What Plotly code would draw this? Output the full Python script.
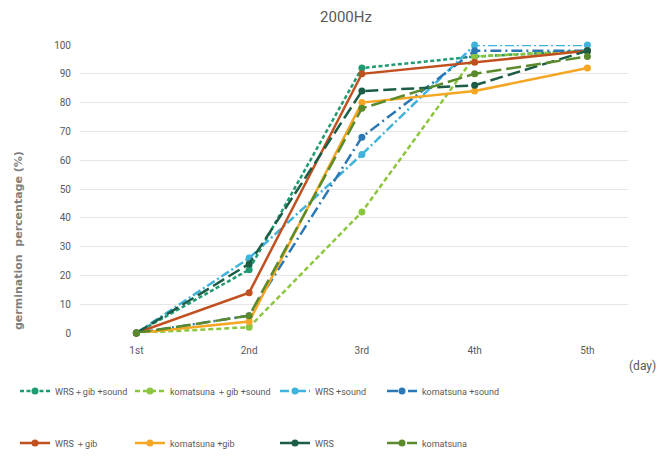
import plotly.graph_objects as go

days = ["1st", "2nd", "3rd", "4th", "5th"]
wrs_gib_sound = [0, 22, 92, 96, 98]
kom_gib_sound = [0, 2, 42, 96, 98]
wrs_sound = [0, 26, 62, 100, 100]
kom_sound = [0, 6, 68, 98, 98]
wrs_gib = [0, 14, 90, 94, 98]
kom_gib = [0, 4, 80, 84, 92]
wrs = [0, 24, 84, 86, 98]
kom = [0, 6, 78, 90, 96]
y_ticks = list(range(0, 101, 10))

series = [
    ("WRS＋gib +sound", wrs_gib_sound, "#1f9a72", "4px,2.5px"),
    ("komatsuna ＋gib +sound", kom_gib_sound, "#8cc63e", "5px,3px"),
    ("WRS +sound", wrs_sound, "#3fb3dc", "9px,3px,2px,3px"),
    ("komatsuna +sound", kom_sound, "#2b78b5", "11px,4px,2px,4px"),
    ("WRS ＋gib", wrs_gib, "#c0501f", "solid"),
    ("komatsuna +gib", kom_gib, "#f5a623", "solid"),
    ("WRS", wrs, "#1b5e45", "13px,5px"),
    ("komatsuna", kom, "#5a8a2c", "15px,5px"),
]

font_fam = "Roboto, Liberation Sans, sans-serif"
OFF = 8  # page body margin
W, H = 667, 456
L, T = 80 - OFF, 45 - OFF
R, B = W - (628 - OFF), H - (333 - OFF)
pw, ph = W - L - R, H - T - B


def px_x(sx):
    return (sx - OFF - L) / pw


def px_y(sy):
    return (T + ph - (sy - OFF)) / ph


fig = go.Figure()
legend_layout = {}
sym_px = [28, 143, 288, 395]
row_px = [391, 443]
for i, (name, vals, color, dash) in enumerate(series):
    key = "legend" if i == 0 else f"legend{i + 1}"
    fig.add_trace(go.Scatter(
        x=days, y=vals, name=name, mode="lines+markers",
        line=dict(color=color, width=2.5, dash=dash),
        marker=dict(color=color, size=7, symbol="circle"),
        legend=key, cliponaxis=False,
    ))
    r, c = divmod(i, 4)
    legend_layout[key] = dict(
        orientation="h", x=px_x(sym_px[c] - 13), xanchor="left",
        y=px_y(row_px[r]), yanchor="middle", itemwidth=30,
        font=dict(family=font_fam, size=9, color="#595959"),
        bgcolor="rgba(0,0,0,0)")

fig.update_layout(
    width=W, height=H,
    margin=dict(l=L, r=R, t=T, b=B, autoexpand=False),
    paper_bgcolor="white", plot_bgcolor="white",
    title=dict(text="2000Hz", x=px_x(346), xref="paper", xanchor="center",
               y=1 - (17 - OFF) / H, yanchor="middle",
               font=dict(family=font_fam, size=15, color="#595959")),
    xaxis=dict(type="category", range=[-0.5, 4.36], showgrid=False, zeroline=False,
               showline=False, ticks="", ticklabelstandoff=10,
               tickfont=dict(family=font_fam, size=10, color="#595959")),
    yaxis=dict(range=[0, 100], tickvals=y_ticks, showgrid=True, gridcolor="#e6e6e6",
               gridwidth=1, zeroline=False, showline=False, ticks="", ticklabelstandoff=8,
               tickfont=dict(family=font_fam, size=10, color="#595959")),
    showlegend=True,
    **legend_layout,
)

fig.add_annotation(text="<b>germination  percentage (%)</b>", textangle=-90,
                   xref="paper", yref="paper", x=px_x(18), y=px_y(241),
                   xanchor="center", yanchor="middle", showarrow=False,
                   font=dict(family="DejaVu Sans", size=11, color="#7f7f7f"))
fig.add_annotation(text="(day)", xref="paper", yref="paper", x=px_x(627),
                   y=px_y(366),
                   xanchor="left", yanchor="middle", showarrow=False,
                   font=dict(family=font_fam, size=12, color="#595959"))

fig.write_html("out.html")
